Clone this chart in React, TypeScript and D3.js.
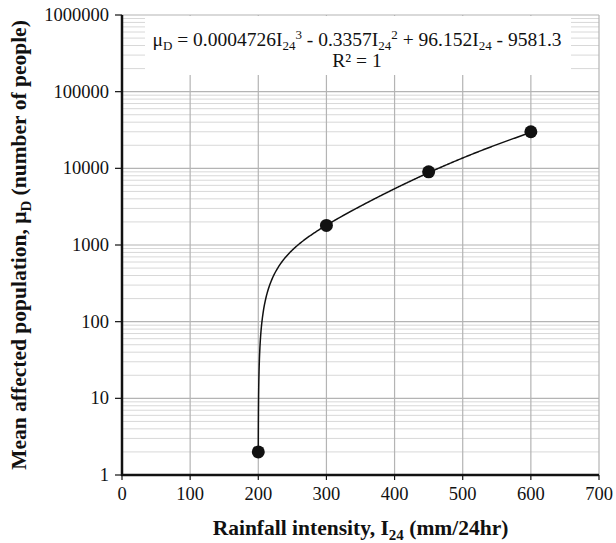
import React from 'react';
import * as d3 from 'd3';

// observed points
const rainfall = [200, 300, 450, 600];
const affected = [2, 1800, 9000, 30000];

// cubic trendline coefficients (a3, a2, a1, a0) as printed on the chart
const trendCoef = [0.0004726, -0.3357, 96.152, -9581.3];
const trendRange = [200, 600];

const xTicks = [0, 100, 200, 300, 400, 500, 600, 700];
const yTicks = [1, 10, 100, 1000, 10000, 100000, 1000000];

const width = 616;
const height = 543;
const margin = { top: 15, right: 17, bottom: 68, left: 122 };
const serif = '"Liberation Serif", "Times New Roman", serif';

const trend = (x: number) =>
  trendCoef[0] * x ** 3 + trendCoef[1] * x ** 2 + trendCoef[2] * x + trendCoef[3];

export default function App() {
  const x = d3.scaleLinear().domain([0, 700]).range([margin.left, width - margin.right]);
  const y = d3.scaleLog().domain([1, 1000000]).range([height - margin.bottom, margin.top]);

  const minor: number[] = [];
  for (let d = 0; d < 6; d++) {
    for (let k = 2; k <= 9; k++) minor.push(k * 10 ** d);
  }

  // sample the trendline finely near its steep start
  const samples: number[] = [];
  for (let v = trendRange[0]; v < 205; v += 0.05) samples.push(v);
  for (let v = 205; v <= trendRange[1]; v += 1) samples.push(v);
  const line = d3
    .line<number>()
    .x((d) => x(d))
    .y((d) => y(Math.max(1, trend(d))));

  const x0 = x(0);
  const y0 = y(1);
  const sub = { fontSize: 13 };

  return (
    <svg width={width} height={height} style={{ position: 'absolute', left: 0, top: 0 }} fontFamily={serif}>
      <rect width={width} height={height} fill="#fff" />
      {/* minor horizontal grid */}
      {minor.map((v) => (
        <line key={'m' + v} x1={x0} x2={x(700)} y1={y(v)} y2={y(v)} stroke="#d8d8d8" strokeWidth={1} />
      ))}
      {/* major horizontal grid */}
      {yTicks.map((v) => (
        <line key={'h' + v} x1={x0} x2={x(700)} y1={y(v)} y2={y(v)} stroke="#b4b4b4" strokeWidth={1.2} />
      ))}
      {/* vertical grid */}
      {xTicks.slice(1).map((v) => (
        <line key={'v' + v} x1={x(v)} x2={x(v)} y1={y(1000000)} y2={y0} stroke="#b4b4b4" strokeWidth={1.2} />
      ))}

      {/* equation box */}
      <rect x={145} y={16} width={426} height={59} fill="#fff" />
      <text x={357} y={46} textAnchor="middle" fontSize={19.5} fill="#111">
        μ<tspan dy={4} style={sub}>D</tspan>
        <tspan dy={-4}> = 0.0004726I</tspan>
        <tspan dy={4} style={sub}>24</tspan>
        <tspan dy={-11} style={sub}>3</tspan>
        <tspan dy={7}> - 0.3357I</tspan>
        <tspan dy={4} style={sub}>24</tspan>
        <tspan dy={-11} style={sub}>2</tspan>
        <tspan dy={7}> + 96.152I</tspan>
        <tspan dy={4} style={sub}>24</tspan>
        <tspan dy={-4}> - 9581.3</tspan>
      </text>
      <text x={357} y={67} textAnchor="middle" fontSize={19.5} fill="#111">
        R² = 1
      </text>

      {/* axes */}
      <line x1={x0} x2={x0} y1={y(1000000)} y2={y0 + 1} stroke="#111" strokeWidth={2.5} />
      <line x1={x0 - 1} x2={x(700)} y1={y0} y2={y0} stroke="#111" strokeWidth={2.5} />
      {yTicks.map((v) => (
        <g key={'yt' + v}>
          <line x1={x0 - 7} x2={x0} y1={y(v)} y2={y(v)} stroke="#111" strokeWidth={1.2} />
          <text x={x0 - 13} y={y(v)} dy="0.33em" textAnchor="end" fontSize={18.5} fill="#111">
            {v}
          </text>
        </g>
      ))}
      {xTicks.map((v) => (
        <g key={'xt' + v}>
          <line x1={x(v)} x2={x(v)} y1={y0} y2={y0 + 5} stroke="#111" strokeWidth={1.2} />
          <text x={x(v)} y={y0 + 25} textAnchor="middle" fontSize={18.5} fill="#111">
            {v}
          </text>
        </g>
      ))}

      {/* trendline and points */}
      <path d={line(samples) || ''} fill="none" stroke="#111" strokeWidth={1.5} />
      {rainfall.map((r, i) => (
        <circle key={'p' + r} cx={x(r)} cy={y(affected[i])} r={6.5} fill="#111" />
      ))}

      {/* axis titles */}
      <text x={(x0 + x(700)) / 2} y={535} textAnchor="middle" fontSize={21.5} fontWeight="bold" fill="#111">
        Rainfall intensity, I<tspan dy={5} fontSize={15}>24</tspan>
        <tspan dy={-5}> (mm/24hr)</tspan>
      </text>
      <text
        transform={`translate(26, ${(y(1000000) + y0) / 2}) rotate(-90)`}
        textAnchor="middle"
        fontSize={21.5}
        fontWeight="bold"
        fill="#111"
      >
        Mean affected population, μ<tspan dy={5} fontSize={15}>D</tspan>
        <tspan dy={-5}> (number of people)</tspan>
      </text>
    </svg>
  );
}
